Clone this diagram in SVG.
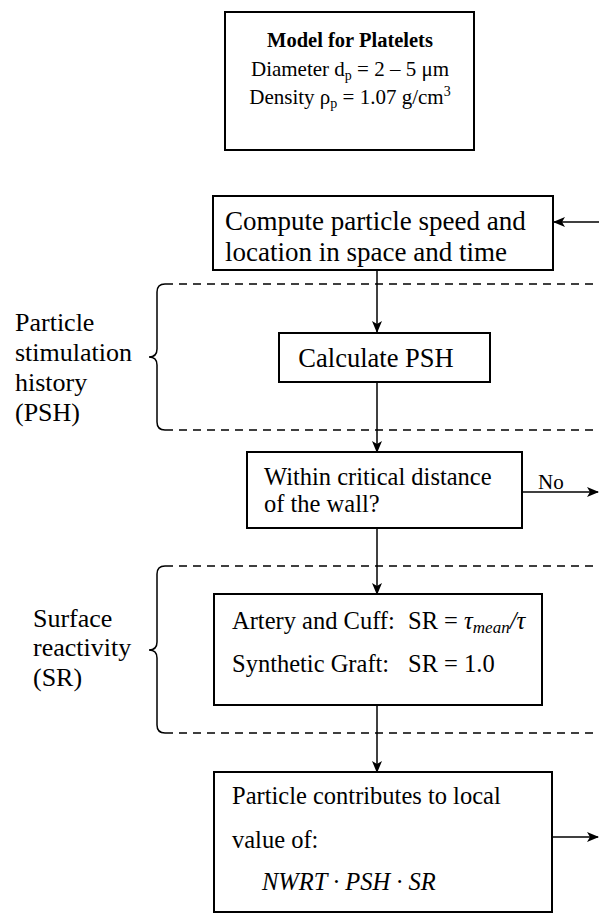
<svg xmlns="http://www.w3.org/2000/svg" width="599" height="914" viewBox="0 0 599 914">
<style>
.box{fill:#fff;stroke:#000;stroke-width:2}
.conn{stroke:#000;stroke-width:1.5;fill:none}
.dash{stroke:#000;stroke-width:1.5;stroke-dasharray:8 6;fill:none}
.brace{stroke:#000;stroke-width:1.5;fill:none}
text{font-family:'Liberation Serif','Times New Roman',serif;fill:#000}
</style>
<defs>
<marker id="ah" markerWidth="12" markerHeight="10" refX="11" refY="5" orient="auto" markerUnits="userSpaceOnUse">
<path d="M0,0 L12,5 L0,10 L3,5 z" fill="#000"/>
</marker>
</defs>
<rect width="599" height="914" fill="#fff"/>

<g id="connectors">
<line class="dash" x1="165" y1="284" x2="599" y2="284"/>
<line class="dash" x1="165" y1="430" x2="599" y2="430"/>
<line class="dash" x1="165" y1="566" x2="599" y2="566"/>
<line class="dash" x1="165" y1="733" x2="599" y2="733"/>
<path class="brace" d="M165 284 Q157 284 157 292 L157 349 Q157 357 149 357 Q157 357 157 365 L157 422 Q157 430 165 430"/>
<path class="brace" d="M165 566 Q157 566 157 574 L157 642 Q157 650 149 650 Q157 650 157 658 L157 725 Q157 733 165 733"/>
<line class="conn" x1="599" y1="222" x2="554" y2="222" marker-end="url(#ah)"/>
<line class="conn" x1="377" y1="270" x2="377" y2="332" marker-end="url(#ah)"/>
<line class="conn" x1="377" y1="382" x2="377" y2="452" marker-end="url(#ah)"/>
<line class="conn" x1="522" y1="492" x2="598" y2="492" marker-end="url(#ah)"/>
<line class="conn" x1="377" y1="528" x2="377" y2="594" marker-end="url(#ah)"/>
<line class="conn" x1="377" y1="705" x2="377" y2="772" marker-end="url(#ah)"/>
<line class="conn" x1="552" y1="837" x2="598" y2="837" marker-end="url(#ah)"/>
<text x="538" y="489" font-size="21">No</text>
</g>

<g id="model">
<rect class="box" x="225" y="12" width="249" height="138"/>
<text x="350" y="47" font-size="20.5" font-weight="bold" text-anchor="middle">Model for Platelets</text>
<text x="350" y="76" font-size="21" text-anchor="middle">Diameter d<tspan font-size="14" dy="4">p</tspan><tspan dy="-4"> = 2 – 5 μm</tspan></text>
<text x="350" y="104" font-size="21" text-anchor="middle">Density ρ<tspan font-size="14" dy="4">p</tspan><tspan dy="-4"> = 1.07 g/cm</tspan><tspan font-size="14" dy="-8">3</tspan></text>
</g>

<g id="compute">
<rect class="box" x="213" y="196" width="340" height="74"/>
<text x="225" y="230" font-size="27">Compute particle speed and</text>
<text x="225" y="261" font-size="27">location in space and time</text>
</g>

<g id="psh-label">
<text x="15" y="331" font-size="26">Particle</text>
<text x="15" y="361" font-size="26">stimulation</text>
<text x="15" y="391" font-size="26">history</text>
<text x="15" y="421" font-size="26">(PSH)</text>
</g>

<g id="calc">
<rect class="box" x="279" y="333" width="211" height="49"/>
<text x="376" y="367" font-size="26.5" text-anchor="middle">Calculate PSH</text>
</g>

<g id="within">
<rect class="box" x="247" y="452" width="275" height="76"/>
<text x="264" y="485" font-size="24.5">Within critical distance</text>
<text x="264" y="512" font-size="24.5">of the wall?</text>
</g>

<g id="sr-label">
<text x="33" y="627" font-size="26">Surface</text>
<text x="33" y="656" font-size="26">reactivity</text>
<text x="33" y="686" font-size="26">(SR)</text>
</g>

<g id="sr">
<rect class="box" x="214" y="594" width="328" height="111"/>
<text x="232" y="629" font-size="24.5">Artery and Cuff:</text>
<text x="408" y="629" font-size="24.5">SR = <tspan font-style="italic">τ</tspan><tspan font-style="italic" font-size="17" dy="4">mean</tspan><tspan dy="-4" font-style="italic">/τ</tspan></text>
<text x="232" y="672" font-size="24.5">Synthetic Graft:</text>
<text x="408" y="672" font-size="24.5">SR = 1.0</text>
</g>

<g id="contrib">
<rect class="box" x="214" y="772" width="338" height="140"/>
<text x="232" y="804" font-size="24.5">Particle contributes to local</text>
<text x="232" y="848" font-size="24.5">value of:</text>
<text x="262" y="890" font-size="24.5" font-style="italic">NWRT · PSH · SR</text>
</g>
</svg>
